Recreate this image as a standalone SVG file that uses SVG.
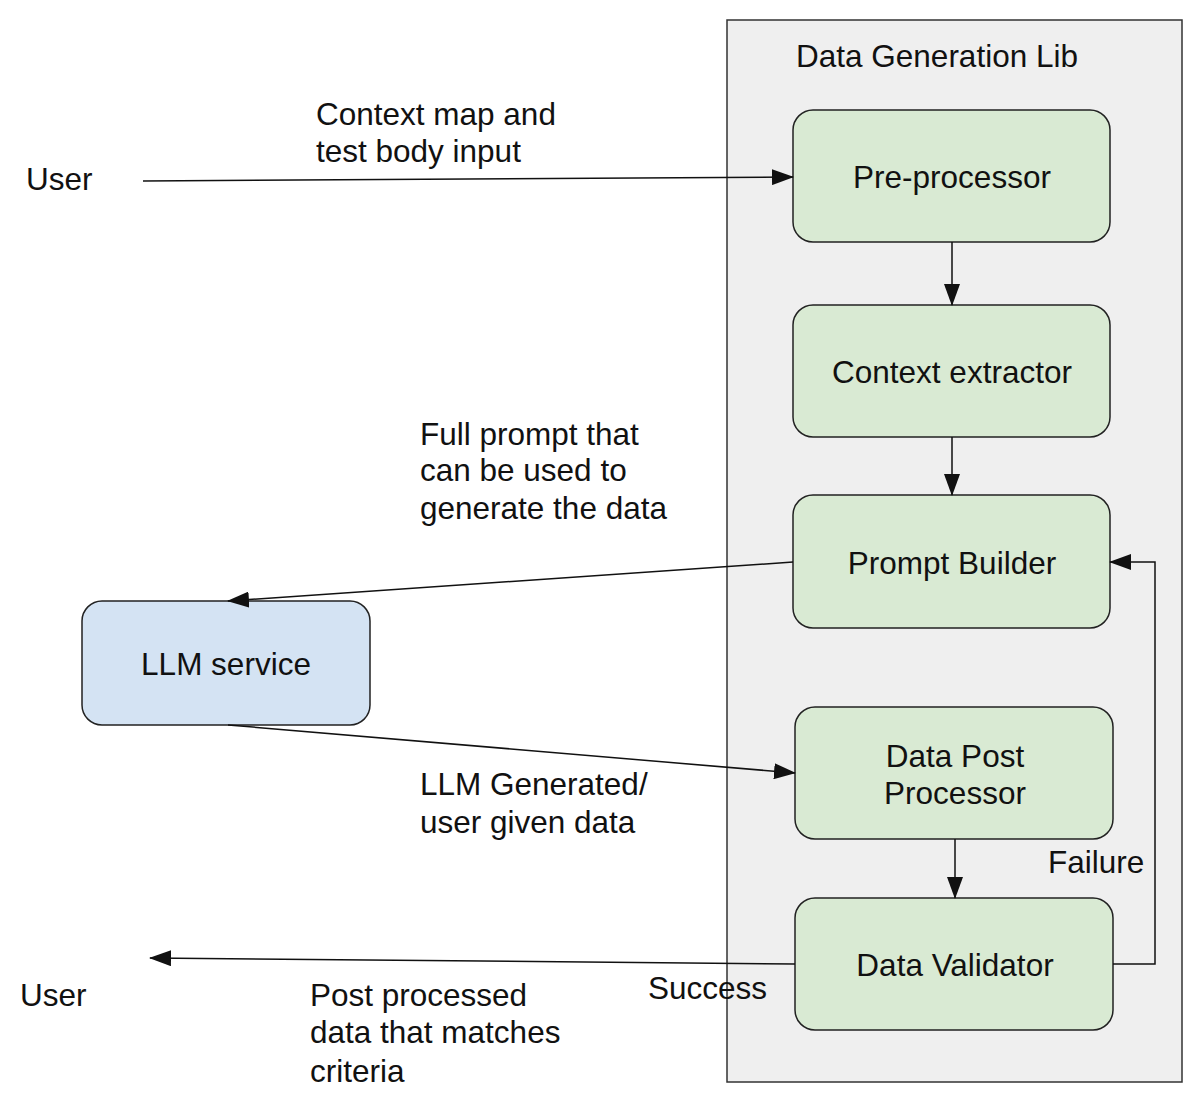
<svg xmlns="http://www.w3.org/2000/svg" width="1200" height="1099" viewBox="0 0 1200 1099">
<style>
text{font-family:"Liberation Sans",Arial,sans-serif;font-size:31.5px;fill:#111}
.c{text-anchor:middle}
.n{fill:#d9ead3;stroke:#222;stroke-width:1.5}
.e{fill:none;stroke:#111;stroke-width:1.5}
</style>
<defs><marker id="a" markerWidth="22" markerHeight="16" refX="21" refY="8" orient="auto" markerUnits="userSpaceOnUse" viewBox="0 0 22 16"><path d="M0,0 L22,8 L0,16 Z" fill="#111"/></marker></defs>
<rect width="1200" height="1099" fill="#fff"/>
<g id="lib"><rect x="727" y="20" width="455" height="1062" fill="#efefef" stroke="#333" stroke-width="1.5"/><text class="c" x="937" y="67">Data Generation Lib</text></g>
<g id="pre"><rect class="n" x="793" y="110" width="317" height="132" rx="20"/><text class="c" x="952" y="188">Pre-processor</text></g>
<g id="ctx"><rect class="n" x="793" y="305" width="317" height="132" rx="20"/><text class="c" x="952" y="383">Context extractor</text></g>
<g id="pb"><rect class="n" x="793" y="495" width="317" height="133" rx="20"/><text class="c" x="952" y="574">Prompt Builder</text></g>
<g id="dpp"><rect class="n" x="795" y="707" width="318" height="132" rx="20"/><text class="c" x="955" y="767">Data Post</text><text class="c" x="955" y="804">Processor</text></g>
<g id="dv"><rect class="n" x="795" y="898" width="318" height="132" rx="20"/><text class="c" x="955" y="976">Data Validator</text></g>
<g id="llm"><rect x="82" y="601" width="288" height="124" rx="20" fill="#d4e3f3" stroke="#222" stroke-width="1.5"/><text class="c" x="226" y="675">LLM service</text></g>
<g id="u1"><text x="26" y="190">User</text></g>
<g id="u2"><text x="20" y="1006">User</text></g>
<g id="connectors">
<line class="e" x1="143" y1="181" x2="793" y2="177" marker-end="url(#a)"/>
<line class="e" x1="952" y1="242" x2="952" y2="305" marker-end="url(#a)"/>
<line class="e" x1="952" y1="437" x2="952" y2="495" marker-end="url(#a)"/>
<line class="e" x1="793" y1="562" x2="228" y2="601" marker-end="url(#a)"/>
<line class="e" x1="228" y1="725" x2="795" y2="773" marker-end="url(#a)"/>
<line class="e" x1="955" y1="839" x2="955" y2="898" marker-end="url(#a)"/>
<line class="e" x1="795" y1="964" x2="150" y2="958" marker-end="url(#a)"/>
<polyline class="e" points="1113,964 1155,964 1155,562 1110,562" marker-end="url(#a)"/>
<text x="316" y="125">Context map and</text><text x="316" y="162">test body input</text>
<text x="420" y="445">Full prompt that</text><text x="420" y="481">can be used to</text><text x="420" y="519">generate the data</text>
<text x="420" y="795">LLM Generated/</text><text x="420" y="833">user given data</text>
<text x="1048" y="873">Failure</text>
<text x="648" y="999">Success</text>
<text x="310" y="1006">Post processed</text><text x="310" y="1043">data that matches</text><text x="310" y="1082">criteria</text>
</g>
</svg>
